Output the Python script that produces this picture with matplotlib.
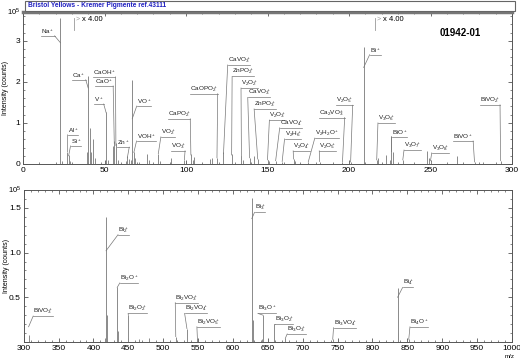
import matplotlib
matplotlib.use("Agg")
import matplotlib.pyplot as plt
from matplotlib.patches import Rectangle
from matplotlib.ticker import MultipleLocator

plt.rcParams['font.family'] = ['Liberation Sans', 'DejaVu Sans']
plt.rcParams['mathtext.fontset'] = 'custom'
plt.rcParams['mathtext.rm'] = 'Liberation Sans'
plt.rcParams['mathtext.it'] = 'Liberation Sans:italic'
plt.rcParams['mathtext.bf'] = 'Liberation Sans:bold'
plt.rcParams['mathtext.default'] = 'rm'

# ---- data (intensity in units of 1e5 counts, as displayed) ----
top_mz = [23, 24, 27, 28, 29, 39, 40, 41, 42, 43, 44, 48, 51, 52, 55, 56, 57, 58,
          63, 64, 65, 66, 67, 68, 69, 71, 76, 77, 83, 84, 91, 99, 103, 104, 105,
          115, 116, 119, 123, 128, 134, 135, 139, 142, 144, 150, 151, 155, 159,
          166, 167, 175, 182, 196, 201, 209, 217, 218, 223, 225, 226, 227, 233,
          248, 249, 250, 266, 277, 282, 293]
top_int = [3.55, 0.08, 0.30, 0.22, 0.08, 0.30, 2.15, 0.88, 0.30, 0.60, 0.15, 0.05,
           1.27, 0.10, 0.45, 0.55, 0.50, 0.10, 0.08, 0.20, 0.12, 0.10, 2.05, 0.30,
           0.15, 0.05, 0.25, 0.10, 0.25, 0.08, 0.15, 0.10, 0.25, 0.10, 0.18, 0.12,
           0.15, 0.15, 0.30, 0.25, 0.20, 0.10, 0.15, 0.20, 0.12, 0.10, 0.08, 0.08,
           0.06, 0.12, 0.08, 0.05, 0.06, 0.05, 0.05, 2.85, 0.10, 0.15, 0.22, 0.10,
           0.68, 0.30, 0.10, 0.32, 0.15, 0.08, 0.20, 0.05, 0.05, 0.08]

bot_mz = [307, 417, 418, 419, 434, 435, 450, 466, 480, 518, 534, 549,
          627, 628, 641, 643, 659, 675, 743, 836, 837, 852]
bot_int = [0.08, 0.05, 1.40, 0.30, 0.61, 0.12, 0.30, 0.03, 0.04, 0.06, 0.15, 0.04,
           1.61, 0.25, 0.03, 0.30, 0.20, 0.04, 0.03, 0.60, 0.10, 0.03]

# labels: text, text x, underline y, leader side, peak x, peak y
top_labels = [
    (r'Na$^+$', 15.3, 3.12, 'r', 23, 2.95),
    (r'Al$^+$', 30.7, 0.71, 'l', 27.3, 0.30),
    (r'Si$^+$', 32.5, 0.44, 'l', 28, 0.20),
    (r'Ca$^+$', 34.4, 2.05, 'r', 40, 1.85),
    (r'CaOH$^+$', 49.7, 2.12, 'r', 57, 0.45),
    (r'CaO$^+$', 49.7, 1.90, 'r', 56, 0.50),
    (r'V$^+$', 46.6, 1.46, 'r', 51, 1.25),
    (r'Zn$^+$', 61.3, 0.41, 'r', 64, 0.15),
    (r'VO$^+$', 74.2, 1.41, 'l', 67, 1.10),
    (r'VOH$^+$', 75.5, 0.56, 'l', 68, 0.28),
    (r'VO$_2^+$', 89, 0.66, 'l', 83, 0.25),
    (r'VO$_3^+$', 95, 0.32, 'r', 99, 0.10),
    (r'CaPO$_2^+$', 95.7, 1.10, 'r', 103, 0.22),
    (r'CaOPO$_2^+$', 111, 1.71, 'r', 119, 0.15),
    (r'CaVO$_3^+$', 132.5, 2.41, 'l', 123, 0.25),
    (r'ZnPO$_2^+$', 135, 2.13, 'l', 128, 0.22),
    (r'V$_2$O$_2^+$', 139, 1.85, 'l', 134, 0.18),
    (r'CaVO$_3^+$', 144.8, 1.62, 'l', 139, 0.15),
    (r'ZnPO$_3^+$', 148.5, 1.34, 'l', 144, 0.12),
    (r'V$_2$O$_3^+$', 156.4, 1.07, 'l', 150, 0.10),
    (r'CaVO$_4^+$', 164.4, 0.88, 'l', 155, 0.08),
    (r'V$_2$H$_6^+$', 165.6, 0.61, 'l', 159, 0.06),
    (r'V$_2$O$_4^+$', 171, 0.32, 'l', 166, 0.12),
    (r'V$_2$H$_2$O$^+$', 186.5, 0.63, 'l', 175, 0.05),
    (r'V$_2$O$_5^+$', 187, 0.32, 'l', 182, 0.06),
    (r'Ca$_2$VO$_3^+$', 189.6, 1.13, 'r', 196, 0.05),
    (r'V$_2$O$_5^+$', 197, 1.43, 'r', 201, 0.05),
    (r'Bi$^+$', 216, 2.66, 'l', 209, 2.35),
    (r'V$_3$O$_6^+$', 223, 1.00, 'l', 217, 0.10),
    (r'BiO$^+$', 231, 0.66, 'l', 226, 0.30),
    (r'V$_3$O$_7^+$', 239, 0.34, 'l', 233, 0.10),
    (r'V$_3$O$_8^+$', 256, 0.27, 'l', 250, 0.08),
    (r'BiVO$^+$', 270, 0.56, 'r', 277, 0.05),
    (r'BiVO$_2^+$', 286.5, 1.44, 'r', 293, 0.08),
]

bot_labels = [
    (r'BiVO$_3^+$', 328, 0.29, 'l', 307, 0.17),
    (r'Bi$_2^+$', 443, 1.20, 'l', 418, 1.02),
    (r'Bi$_2$O$^+$', 451, 0.66, 'l', 434, 0.61),
    (r'Bi$_2$O$_2^+$', 463, 0.32, 'l', 450, 0.30),
    (r'Bi$_2$VO$_3^+$', 533.6, 0.44, 'l', 518, 0.06),
    (r'Bi$_2$VO$_4^+$', 547, 0.32, 'l', 534, 0.15),
    (r'Bi$_2$VO$_5^+$', 564.6, 0.17, 'l', 549, 0.04),
    (r'Bi$_3^+$', 638.7, 1.45, 'l', 627, 1.38),
    (r'Bi$_3$O$^+$', 649, 0.32, 'l', 643, 0.30),
    (r'Bi$_3$O$_2^+$', 673, 0.20, 'l', 659, 0.20),
    (r'Bi$_3$O$_3^+$', 691, 0.09, 'l', 675, 0.04),
    (r'Bi$_3$VO$_4^+$', 760.5, 0.16, 'l', 743, 0.03),
    (r'Bi$_4^+$', 851, 0.61, 'l', 836, 0.50),
    (r'Bi$_4$O$^+$', 867, 0.17, 'l', 852, 0.03),
]

W, H = 520, 360
fig = plt.figure(figsize=(5.2, 3.6), dpi=100)
ax1 = fig.add_axes([23 / W, 1 - 164 / H, 489 / W, 152 / H])
ax2 = fig.add_axes([23.7 / W, 1 - 342 / H, 488.3 / W, 152 / H])

line_col = '#8a8a8a'
ax1.vlines(top_mz, 0, top_int, color=line_col, lw=0.7)
ax2.vlines(bot_mz, 0, bot_int, color=line_col, lw=0.7)

ax1.set_xlim(0, 300)
ax1.set_ylim(0, 3.7)
ax2.set_xlim(300, 1000)
ax2.set_ylim(0, 1.70)

ax1.xaxis.set_major_locator(MultipleLocator(50))
ax1.xaxis.set_minor_locator(MultipleLocator(10))
ax1.yaxis.set_major_locator(MultipleLocator(1))
ax1.yaxis.set_minor_locator(MultipleLocator(0.2))
ax2.xaxis.set_major_locator(MultipleLocator(50))
ax2.xaxis.set_minor_locator(MultipleLocator(10))
ax2.set_yticks([0.5, 1.0, 1.5])
ax2.set_yticklabels(['0.5', '1.0', '1.5'])
ax2.yaxis.set_minor_locator(MultipleLocator(0.1))

for ax in (ax1, ax2):
    ax.tick_params(which='both', top=True, right=True, direction='in',
                   labelsize=6, color='#555', pad=2)
    ax.tick_params(which='major', length=3, width=0.6)
    ax.tick_params(which='minor', length=1.5, width=0.5)
    for s in ax.spines.values():
        s.set_color('#555')
        s.set_linewidth(0.7)
    ax.set_ylabel('Intensity (counts)', fontsize=5, labelpad=2)
    ax.yaxis.set_label_coords(-0.028, 0.5)
    ax.text(-0.005, 1.0, r'10$^5$', transform=ax.transAxes, ha='right',
            va='center', fontsize=5.5)

ax1.spines['top'].set_linewidth(2.5)
ax1.spines['top'].set_color('#777')

# title bar
fig.add_artist(Rectangle((25 / W, 1 - 10.5 / H), 490 / W, 9.5 / H,
                         transform=fig.transFigure, facecolor='white',
                         edgecolor='#666', lw=0.8))
fig.text(28 / W, 1 - 5.8 / H, 'Bristol Yellows - Kremer Pigmente ref.43111',
         color='#2020c0', fontweight='bold', fontsize=4.8, ha='left', va='center')

fig.text(460 / W, 1 - 33 / H, '01942-01', fontweight='bold', fontsize=7,
         ha='center', va='center')
fig.text(515 / W, 1 - 356 / H, 'm/z', fontsize=4.5, ha='right', va='center')

# x 4.00 magnification markers
for xm in (31, 216):
    ax1.plot([xm, xm], [3.25, 3.55], color='#999', lw=0.6)
    ax1.text(xm + 1, 3.52, '>', color='#999', fontsize=5, va='center')
    ax1.text(xm + 5, 3.52, 'x 4.00', fontsize=5.5, va='center')

# peak labels with underline + leader
placed = []
for ax, labels in ((ax1, top_labels), (ax2, bot_labels)):
    for txt, tx, uy, side, px, py in labels:
        t = ax.text(tx, uy, txt, fontsize=4.6, ha='center', va='bottom',
                    color='#222')
        placed.append((ax, t, uy, side, px, py))

fig.canvas.draw()
renderer = fig.canvas.get_renderer()
for ax, t, uy, side, px, py in placed:
    bb = t.get_window_extent(renderer).transformed(ax.transData.inverted())
    x0, x1 = bb.x0, bb.x1
    ax.plot([x0, x1], [uy, uy], color='#777', lw=0.5)
    xe = x0 if side == 'l' else x1
    ax.plot([xe, px], [uy, py], color='#777', lw=0.5)

fig.savefig('out.png', dpi=100)
